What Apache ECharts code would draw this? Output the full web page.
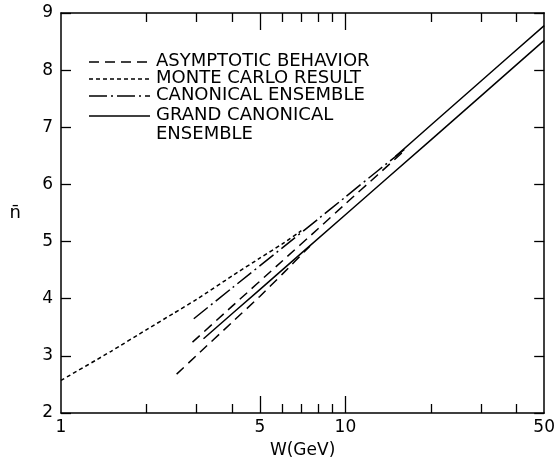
<!DOCTYPE html>
<html>
<head>
<meta charset="utf-8">
<script src="https://cdn.jsdelivr.net/npm/echarts@6/dist/echarts.min.js"></script>
<style>
  html, body { margin: 0; padding: 0; background: #fff; }
  #chart { width: 558px; height: 464px; }
</style>
</head>
<body>
<div id="chart"></div>
<script>
// W (GeV) vs mean multiplicity n
var monteCarloW = [1, 1.5, 2, 2.5, 3, 4, 5, 6, 7];
var monteCarloN = [2.57, 3.08, 3.46, 3.75, 3.99, 4.40, 4.71, 4.96, 5.19];
var canonicalW = [2.93, 4, 6, 8, 10, 13, 16.2];
var canonicalN = [3.65, 4.19, 4.89, 5.39, 5.78, 6.24, 6.62];
var asymUpperW = [2.9, 4, 6, 8, 10, 13, 16.2];
var asymUpperN = [3.24, 3.87, 4.66, 5.22, 5.66, 6.17, 6.60];
var asymLowerW = [2.55, 3, 4, 5, 6, 7.5];
var asymLowerN = [2.68, 3.01, 3.59, 4.04, 4.43, 4.92];
var grandW = [3.17, 5, 10, 20, 50];
var grandN = [3.30, 4.16, 5.47, 6.78, 8.52];
var upperSolidW = [15, 20, 30, 50];
var upperSolidN = [6.49, 7.04, 7.81, 8.78];

// axis ticks / labels
var xLabelValues = [1, 5, 10, 50];
var xMajorTicks = [5, 10];
var xMinorTicks = [2, 3, 4, 6, 7, 8, 9, 20, 30, 40];

var legendNames = ['ASYMPTOTIC BEHAVIOR', 'MONTE CARLO RESULT', 'CANONICAL ENSEMBLE', 'GRAND CANONICAL\nENSEMBLE'];

var FONT = 'DejaVu Sans';
var DOTTED = [4, 3];
var DASHED = [10, 6];
var DASHDOT = [18, 4, 2, 4];

function pairs(xs, ys) {
    return xs.map(function (x, i) { return [x, ys[i]]; });
}

function lineSeries(name, xs, ys, type) {
    return {
        name: name,
        type: 'line',
        data: pairs(xs, ys),
        showSymbol: false,
        symbol: 'none',
        smooth: 0.2,
        silent: true,
        lineStyle: { color: '#000', width: 1.5, type: type }
    };
}

function xAxis(position, ticks, len, showLine, labels) {
    return {
        type: 'log',
        logBase: 10,
        min: 1,
        max: 50,
        position: position,
        axisLine: { show: showLine, lineStyle: { color: '#000', width: 1.5 } },
        axisTick: { show: true, inside: true, length: len, customValues: ticks,
                    lineStyle: { color: '#000', width: 1.3 } },
        minorTick: { show: false },
        splitLine: { show: false },
        axisLabel: labels ? {
            show: true, customValues: labels, color: '#000',
            fontFamily: FONT, fontSize: 17, margin: 6
        } : { show: false }
    };
}

var myChart = echarts.init(document.getElementById('chart'));

var xAxes = [
    xAxis('bottom', xMajorTicks, 17, true, xLabelValues),
    xAxis('bottom', xMinorTicks, 9, false, null),
    xAxis('top', xMajorTicks, 17, true, null),
    xAxis('top', xMinorTicks, 9, false, null)
];
xAxes[0].name = 'W(GeV)';
xAxes[0].nameLocation = 'middle';
xAxes[0].nameGap = 29;
xAxes[0].nameTextStyle = { color: '#000', fontFamily: FONT, fontSize: 17 };

// legend drawn as graphic, sample lines + text
var legendGraphic = [];
var rowY = [62, 79, 96, 116];
var dashes = [DASHED, DOTTED, DASHDOT, null];
for (var i = 0; i < legendNames.length; i++) {
    legendGraphic.push({
        type: 'line',
        shape: { x1: 89, y1: rowY[i], x2: 150, y2: rowY[i] },
        style: { stroke: '#000', lineWidth: 1.5, lineDash: dashes[i] }
    });
    legendGraphic.push({
        type: 'text',
        x: 156,
        y: rowY[i] - 10,
        style: {
            text: legendNames[i], fill: '#000', font: '18px "' + FONT + '"',
            lineHeight: 19, textVerticalAlign: 'top'
        }
    });
}

myChart.setOption({
    backgroundColor: '#fff',
    animation: false,
    grid: { left: 61, right: 12, top: 13, bottom: 47 },
    xAxis: xAxes,
    yAxis: [
        {
            type: 'value', min: 2, max: 9, interval: 1, position: 'left',
            name: 'n\u0304', nameLocation: 'middle', nameRotate: 0, nameGap: 40,
            nameTextStyle: { color: '#000', fontFamily: FONT, fontSize: 18 },
            axisLine: { show: true, lineStyle: { color: '#000', width: 1.5 } },
            axisTick: { show: true, inside: true, length: 10, lineStyle: { color: '#000', width: 1.3 } },
            axisLabel: { color: '#000', fontFamily: FONT, fontSize: 17, margin: 8 },
            splitLine: { show: false }
        },
        {
            type: 'value', min: 2, max: 9, interval: 1, position: 'right',
            axisLine: { show: true, lineStyle: { color: '#000', width: 1.5 } },
            axisTick: { show: true, inside: true, length: 10, lineStyle: { color: '#000', width: 1.3 } },
            axisLabel: { show: false },
            splitLine: { show: false }
        }
    ],
    series: [
        lineSeries('MONTE CARLO RESULT', monteCarloW, monteCarloN, DOTTED),
        lineSeries('CANONICAL ENSEMBLE', canonicalW, canonicalN, DASHDOT),
        lineSeries('ASYMPTOTIC BEHAVIOR', asymUpperW, asymUpperN, DASHED),
        lineSeries('ASYMPTOTIC BEHAVIOR', asymLowerW, asymLowerN, DASHED),
        lineSeries('GRAND CANONICAL ENSEMBLE', grandW, grandN, 'solid'),
        lineSeries('GRAND CANONICAL ENSEMBLE', upperSolidW, upperSolidN, 'solid')
    ],
    graphic: legendGraphic
});
</script>
</body>
</html>
